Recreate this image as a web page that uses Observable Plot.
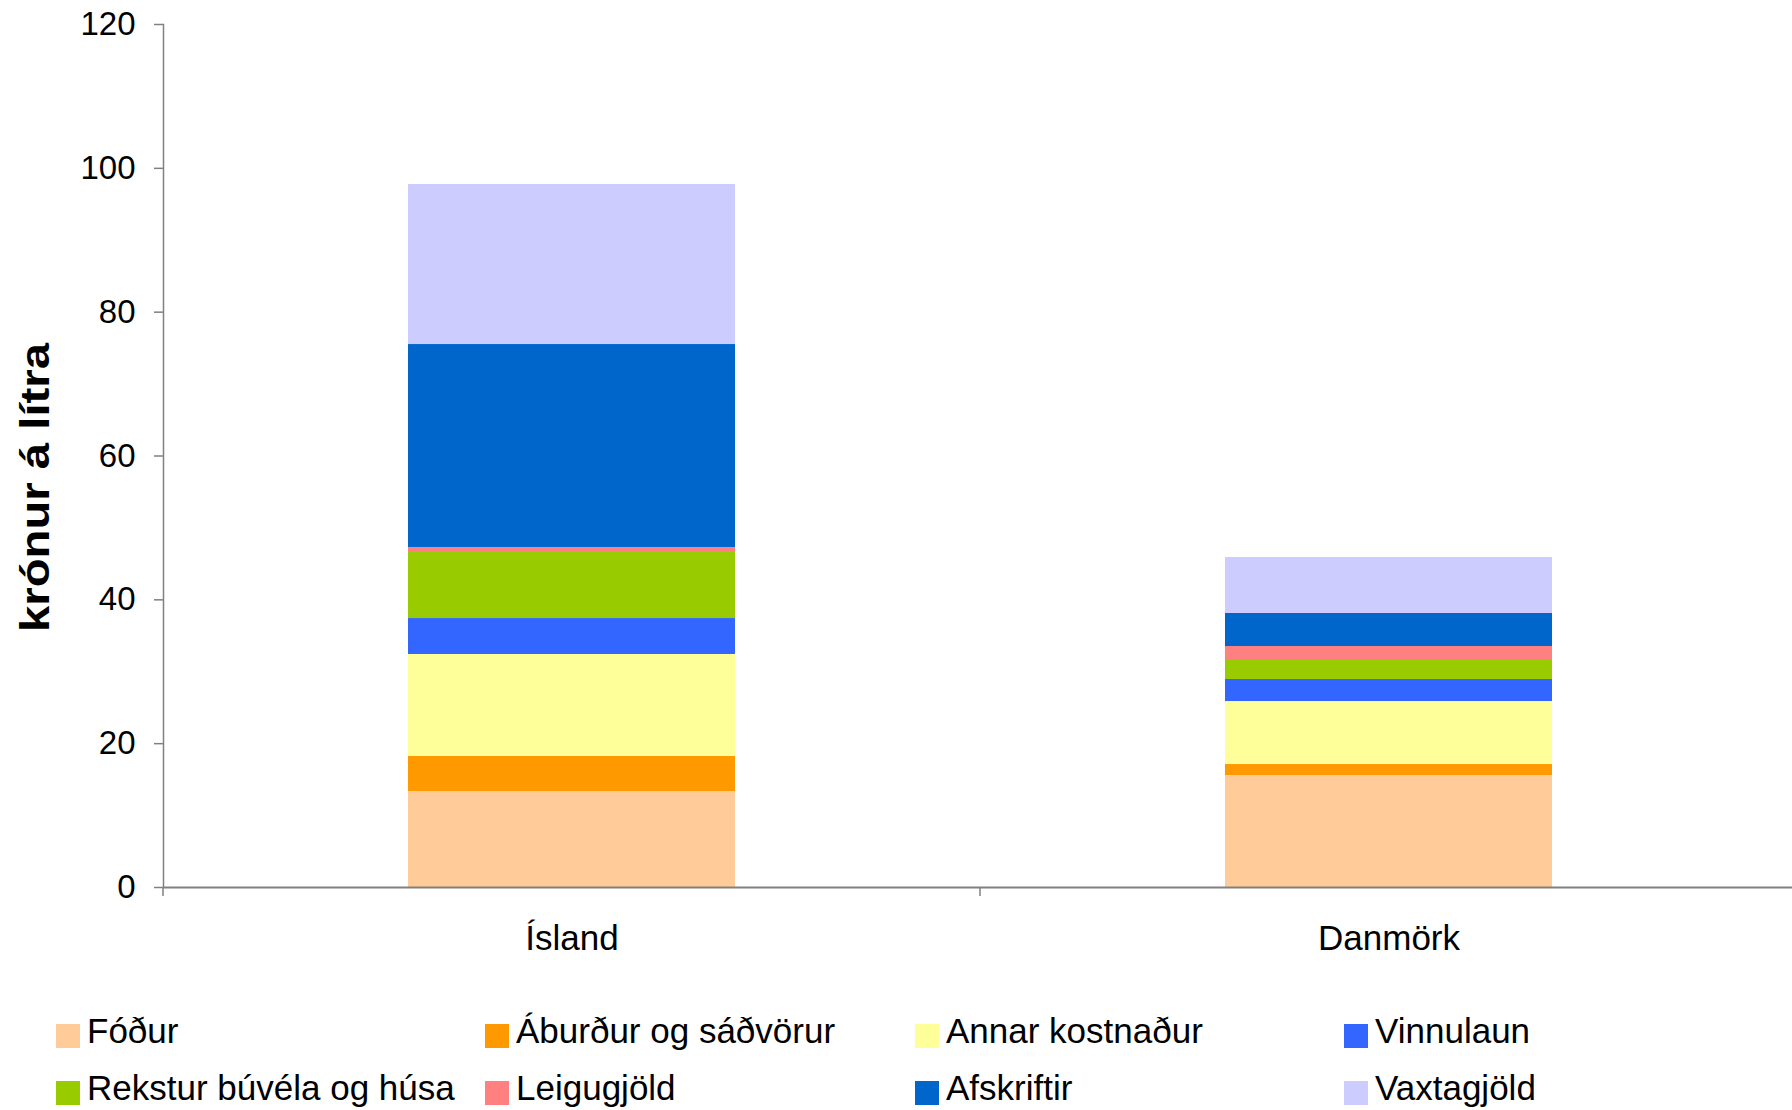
<!DOCTYPE html>
<html>
<head>
<meta charset="utf-8">
<script src="https://cdn.jsdelivr.net/npm/d3@7"></script>
<script src="https://cdn.jsdelivr.net/npm/@observablehq/plot@0.6"></script>
<style>
  html, body { margin: 0; padding: 0; background: #fff; overflow: hidden; }
  body { width: 1792px; height: 1110px; font-family: "Liberation Sans", Arial, sans-serif; }
  #legend { position: absolute; left: 56px; top: 1008px; display: grid; grid-template-columns: 429px 430px 429px 429px; row-gap: 11px; }
  .item { display: flex; align-items: center; height: 46px; font-size: 35px; color: #000; white-space: nowrap; }
  .sw { width: 24px; height: 24px; margin-right: 7px; margin-top: 9px; flex: none; }
</style>
</head>
<body>
<div id="chart"></div>
<div id="legend"></div>
<script>
const countries = ["Ísland", "Danmörk"];
const costTypes = ["Fóður", "Áburður og sáðvörur", "Annar kostnaður", "Vinnulaun", "Rekstur búvéla og húsa", "Leigugjöld", "Afskriftir", "Vaxtagjöld"];
const colors = ["#FFCC99", "#FF9900", "#FFFF99", "#3366FF", "#99CC00", "#FF8080", "#0066CC", "#CCCCFF"];
const islandValues = [13.35, 4.87, 14.18, 5.0, 9.18, 0.7, 28.22, 22.25];
const danmorkValues = [15.57, 1.53, 8.76, 3.06, 2.78, 1.81, 4.59, 7.79];
const yTicks = [0, 20, 40, 60, 80, 100, 120];
const yLabel = "krónur á lítra";
const legendOrder = ["Fóður", "Áburður og sáðvörur", "Annar kostnaður", "Vinnulaun", "Rekstur búvéla og húsa", "Leigugjöld", "Afskriftir", "Vaxtagjöld"];

const table = [];
costTypes.forEach((c, i) => {
  table.push({country: countries[0], type: c, value: islandValues[i]});
  table.push({country: countries[1], type: c, value: danmorkValues[i]});
});

function boundaryTicks(index, scales, values, dimensions) {
  const g = document.createElementNS("http://www.w3.org/2000/svg", "g");
  const x = scales.x;
  const dom = countries;
  const step = x.step ? x.step() : (dimensions.width - dimensions.marginLeft - dimensions.marginRight) / dom.length;
  const bw = x.bandwidth ? x.bandwidth() : step * 0.4;
  const y0 = dimensions.height - dimensions.marginBottom;
  const xs = dom.map(d => x(d) - (step - bw) / 2);
  xs.push(x(dom[dom.length - 1]) - (step - bw) / 2 + step);
  xs.forEach(px => {
    const l = document.createElementNS("http://www.w3.org/2000/svg", "line");
    l.setAttribute("x1", px); l.setAttribute("x2", px);
    l.setAttribute("y1", y0); l.setAttribute("y2", y0 + 9);
    l.setAttribute("stroke", "#808080"); l.setAttribute("stroke-width", 1.5);
    g.appendChild(l);
  });
  return g;
}

const chart = Plot.plot({
  width: 1792,
  height: 962,
  marginTop: 24,
  marginBottom: 75,
  marginLeft: 163,
  marginRight: -5,
  style: {fontFamily: "'Liberation Sans', Arial, sans-serif", background: "#fff", color: "#000", overflow: "hidden"},
  x: {domain: countries, paddingInner: 0.6, paddingOuter: 0.3},
  y: {domain: [0, 120]},
  color: {domain: costTypes, range: colors},
  marks: [
    Plot.barY(table, Plot.stackY({x: "country", y: "value", fill: "type", order: costTypes})),
    Plot.ruleY([0], {stroke: "#808080", strokeWidth: 2}),
    Plot.axisY({ticks: yTicks, tickSize: 9, tickPadding: 19, fontSize: 33, label: null, stroke: "#808080", strokeWidth: 1.5, color: "#000"}),
    Plot.frame({anchor: "left", stroke: "#808080", strokeWidth: 1.5}),
    Plot.axisX({tickSize: 0, tickPadding: 38, fontSize: 35, label: null, color: "#000"}),
    boundaryTicks,
    Plot.text([yLabel], {text: d => d, frameAnchor: "left", textAnchor: "middle", rotate: -90, dx: -128, dy: 31.5, fontSize: 41, fontWeight: "bold", fill: "#000", className: "ylab"})
  ]
});
document.getElementById("chart").appendChild(chart);
const lab = chart.querySelector(".ylab text");
if (lab) { lab.setAttribute("textLength", 289); lab.setAttribute("lengthAdjust", "spacingAndGlyphs"); }

const legend = document.getElementById("legend");
legendOrder.forEach(name => {
  const i = costTypes.indexOf(name);
  const it = document.createElement("div");
  it.className = "item";
  const sw = document.createElement("span");
  sw.className = "sw";
  sw.style.background = colors[i];
  const tx = document.createElement("span");
  tx.textContent = name;
  it.appendChild(sw); it.appendChild(tx);
  legend.appendChild(it);
});
</script>
</body>
</html>
